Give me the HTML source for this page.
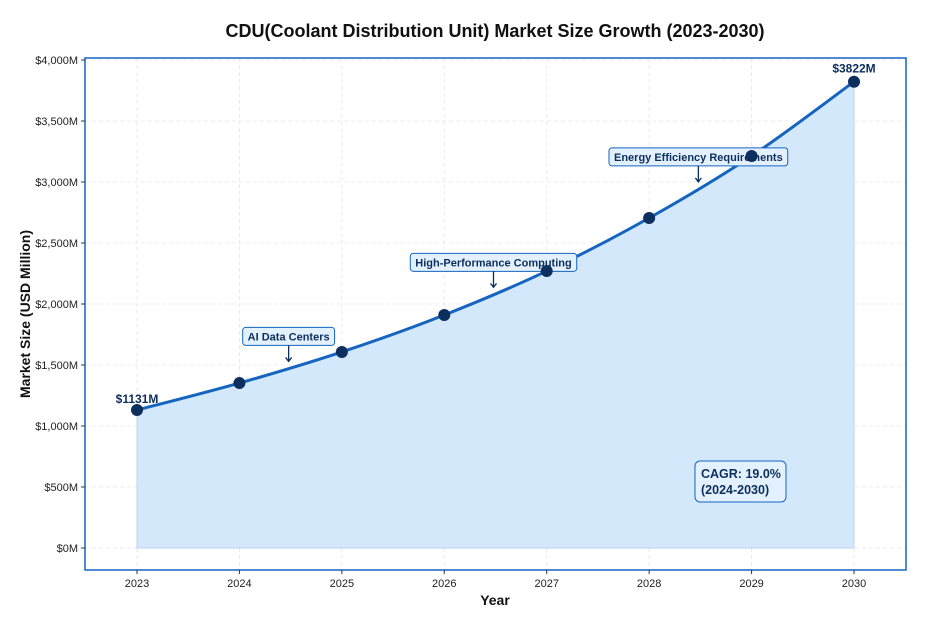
<!DOCTYPE html>
<html><head><meta charset="utf-8"><style>
body{margin:0;background:#fff;font-family:"Liberation Sans",sans-serif}
</style></head><body>
<svg id="chart" width="951" height="617" xmlns="http://www.w3.org/2000/svg" font-family="Liberation Sans, sans-serif">
<text x="495" y="37" text-anchor="middle" font-size="18" font-weight="bold" fill="#111">CDU(Coolant Distribution Unit) Market Size Growth (2023-2030)</text>
<g id="grid"></g>
<g id="plot"></g>
<rect x="85" y="58" width="821" height="512" fill="none" stroke="#1565c0" stroke-width="1.5"/>
<g id="axes"></g>
<text x="495" y="605" text-anchor="middle" font-size="14" font-weight="bold" fill="#111">Year</text>
<text transform="translate(30,314) rotate(-90)" text-anchor="middle" font-size="14" font-weight="bold" fill="#111">Market Size (USD Million)</text>
<g id="annos"></g>
<g id="dots"></g>
</svg>
<script>
const years=[2023,2024,2025,2026,2027,2028,2029,2030];
const values=[1131,1352,1607,1910,2270,2705,3213,3822];
const yTicks=[0,500,1000,1500,2000,2500,3000,3500,4000];
const yTickLabels=["$0M","$500M","$1,000M","$1,500M","$2,000M","$2,500M","$3,000M","$3,500M","$4,000M"];
const annoLabels=["AI Data Centers","High-Performance Computing","Energy Efficiency Requirements"];
const annoX=[2024.5,2026.5,2028.5];
const NS="http://www.w3.org/2000/svg";
const X=v=>137+(v-2023)*(854-137)/7;
const Y=v=>548-v*(548-60)/4000;
function mk(t,a,p){const e=document.createElementNS(NS,t);for(const k in a)e.setAttribute(k,a[k]);(p||document.getElementById('plot')).appendChild(e);return e;}
const grid=document.getElementById('grid'),axes=document.getElementById('axes'),annos=document.getElementById('annos'),dots=document.getElementById('dots');
yTicks.forEach((t,i)=>{
 const l=mk('line',{x1:85,x2:906,y1:Y(t),y2:Y(t),stroke:'#e6e6e6','stroke-dasharray':'4,3','stroke-width':0.8},grid);
 
 const tk=mk('line',{x1:81,x2:85,y1:Y(t),y2:Y(t),stroke:'#333'},axes);
 
 const tx=mk('text',{x:78,y:Y(t)+4,'text-anchor':'end','font-size':11,fill:'#222'},axes);tx.textContent=yTickLabels[i];
 
});
years.forEach(yr=>{
 const l=mk('line',{x1:X(yr),x2:X(yr),y1:58,y2:570,stroke:'#e6e6e6','stroke-dasharray':'4,3','stroke-width':0.8},grid);
 
 const tk=mk('line',{x1:X(yr),x2:X(yr),y1:570,y2:574,stroke:'#333'},axes);
 
 const tx=mk('text',{x:X(yr),y:587,'text-anchor':'middle','font-size':11,fill:'#222'},axes);tx.textContent=yr;
 
});
const pts=years.map((y,i)=>[X(y),Y(values[i])]);
let d='M'+pts[0].join(',');
for(let i=0;i<pts.length-1;i++){const p0=pts[i-1]||pts[i],p1=pts[i],p2=pts[i+1],p3=pts[i+2]||p2;
 d+=` C${p1[0]+(p2[0]-p0[0])/6},${p1[1]+(p2[1]-p0[1])/6} ${p2[0]-(p3[0]-p1[0])/6},${p2[1]-(p3[1]-p1[1])/6} ${p2[0]},${p2[1]}`;}
const area=mk('path',{d:d+` L${X(2030)},${Y(0)} L${X(2023)},${Y(0)} Z`,fill:'#d4e8fc',stroke:'#b7d3f3'});

const line=mk('path',{d,fill:'none',stroke:'#1565c0','stroke-width':3});

pts.forEach(p=>{const c=mk('circle',{cx:p[0],cy:p[1],r:6,fill:'#0d2f5e'},dots);
 });
const l1=mk('text',{x:pts[0][0],y:pts[0][1]-7,'text-anchor':'middle','font-size':12,'font-weight':'bold',fill:'#0d2f5e'},annos);l1.textContent='$'+values[0]+'M';

const l2=mk('text',{x:pts[7][0],y:pts[7][1]-9,'text-anchor':'middle','font-size':12,'font-weight':'bold',fill:'#0d2f5e'},annos);l2.textContent='$'+values[7]+'M';

function interp(x){const i=Math.min(6,Math.floor(x-2023));const f=x-2023-i;const a=values[i],b=values[i+1];return a+(b-a)*f-(b-a)*0.03;}
annoLabels.forEach((s,i)=>{
 const ax=X(annoX[i])-2,ay=Y(interp(annoX[i]))-7;const by=ay-25;
 const g=mk('g',{},annos);
 const r=mk('rect',{x:0,y:by-9,width:10,height:18,rx:3,fill:'#e3f0fd',stroke:'#1565c0','stroke-width':1},g);
 
 const t=mk('text',{x:ax,y:by+4,'text-anchor':'middle','font-size':11,'font-weight':'bold',fill:'#0d2f5e'},g);t.textContent=s;
 
 const w=t.getBBox().width+10;r.setAttribute('x',ax-w/2);r.setAttribute('width',w);
 const a=mk('path',{d:`M${ax},${by+9} L${ax},${ay} M${ax-3},${ay-4} L${ax},${ay} L${ax+3},${ay-4}`,stroke:'#0d2f5e','stroke-width':1.3,fill:'none'},g);
 
});
const cg=mk('g',{},annos);
mk('rect',{x:695,y:461,width:91,height:41,rx:5,fill:'#e3f0fd',stroke:'#1565c0','stroke-width':1},cg);
const c1=mk('text',{x:701,y:478,'font-size':12.5,'font-weight':'bold',fill:'#0d2f5e'},cg);c1.textContent='CAGR: 19.0%';
const c2=mk('text',{x:701,y:494,'font-size':12.5,'font-weight':'bold',fill:'#0d2f5e'},cg);c2.textContent='(2024-2030)';
</script>
</body></html>
